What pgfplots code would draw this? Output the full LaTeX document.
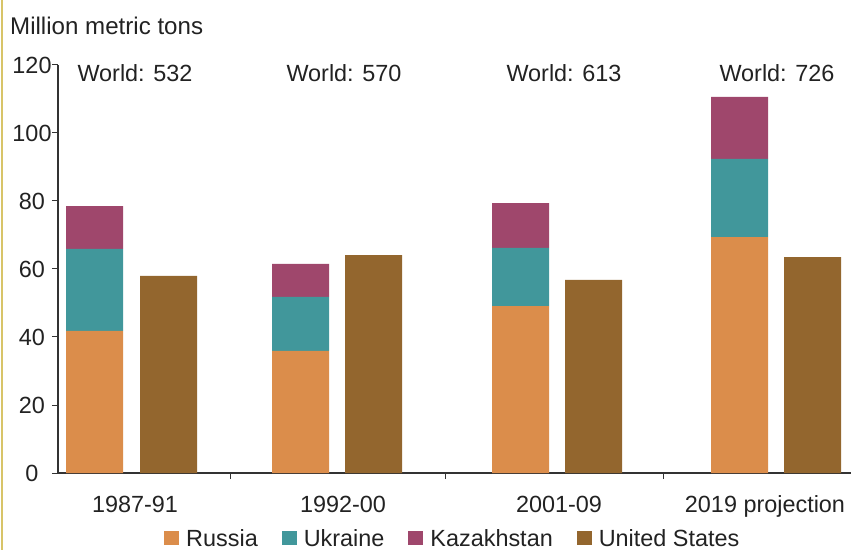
\documentclass[border=0pt]{standalone}
\usepackage{fontspec}
\setmainfont{Liberation Sans}
\usepackage{pgfplots}
\pgfplotsset{compat=1.18}

\definecolor{russia}{HTML}{DB8D4B}
\definecolor{ukraine}{HTML}{41979B}
\definecolor{kazakh}{HTML}{9F476C}
\definecolor{usa}{HTML}{93662E}
\definecolor{txt}{HTML}{222222}
\definecolor{axisc}{HTML}{333333}
\definecolor{edge}{HTML}{D8C468}

\begin{document}
\begin{tikzpicture}[font=\fontsize{23.5}{28}\selectfont, text=txt]
  % page = 851x550 px, axis origin sits at px (58,473)
  \useasboundingbox (-58bp,-77bp) rectangle (793bp,473bp);
  \draw[edge, line width=1.5bp] (-56bp,-77bp) -- (-56bp,473bp);

  \begin{axis}[
      scale only axis,
      width=793bp, height=408bp,
      xmin=58, xmax=851,
      ymin=0, ymax=120,
      ybar stacked,
      bar width=57,
      axis x line*=bottom,
      axis y line*=left,
      axis line style={-, draw=axisc, line width=1.2bp},
      tick align=outside,
      major tick length=6bp,
      tick style={draw=axisc, line width=1bp},
      ytick={0,20,...,120},
      xtick={230,445,663},
      xticklabels={,,},
      extra x ticks={135,343,559,765},
      extra x tick labels={1987-91,1992-00,2001-09,2019 projection},
      extra x tick style={major tick length=0pt,
        xticklabel style={anchor=base, yshift=-39bp}},
      yticklabel style={anchor=center, xshift=-20bp},
      /pgf/number format/assume math mode=true,
      legend columns=4,
      legend style={draw=none, fill=none, inner sep=0pt,
        at={(0.1337,-0.160)}, anchor=west,
        nodes={inner xsep=0pt, inner ysep=0pt, anchor=west},
        /tikz/every odd column/.style={column sep=7bp},
        /tikz/every even column/.style={column sep=24bp}},
      legend image code/.code={\fill[#1] (0bp,-7bp) rectangle (15bp,7bp);},
      clip=false,
    ]
    \addplot[fill=russia, draw=none] coordinates {
      (94.5,41.8) (168.5,0) (300.5,35.9) (373.5,0)
      (520.5,49.1) (593.5,0) (739.5,69.4) (812.5,0)};
    \addlegendentry{Russia}
    \addplot[fill=ukraine, draw=none] coordinates {
      (94.5,24.1) (168.5,0) (300.5,15.9) (373.5,0)
      (520.5,17.1) (593.5,0) (739.5,23.0) (812.5,0)};
    \addlegendentry{Ukraine}
    \addplot[fill=kazakh, draw=none] coordinates {
      (94.5,12.6) (168.5,0) (300.5,9.7) (373.5,0)
      (520.5,13.2) (593.5,0) (739.5,18.2) (812.5,0)};
    \addlegendentry{Kazakhstan}
    \addplot[fill=usa, draw=none] coordinates {
      (94.5,0) (168.5,58.0) (300.5,0) (373.5,64.1)
      (520.5,0) (593.5,56.8) (739.5,0) (812.5,63.5)};
    \addlegendentry{United States}

    \node[anchor=base] at (axis cs:135,115) {World: 532};
    \node[anchor=base] at (axis cs:344,115) {World: 570};
    \node[anchor=base] at (axis cs:564,115) {World: 613};
    \node[anchor=base] at (axis cs:777,115) {World: 726};
  \end{axis}
  \node[anchor=base west, inner sep=0pt, font=\fontsize{24.2}{29}\selectfont]
    at (-48bp,438bp) {Million metric tons};
\end{tikzpicture}
\end{document}
